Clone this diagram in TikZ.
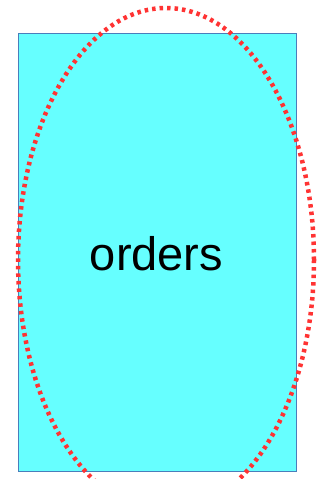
\documentclass[tikz,border=0pt]{standalone}
\usepackage{fontspec}
\setmainfont{Liberation Sans}
\definecolor{boxfill}{HTML}{66FFFF}
\definecolor{boxline}{HTML}{4A7EBB}
\definecolor{ringred}{HTML}{FF3333}
\begin{document}
\begin{tikzpicture}[x=1pt,y=1pt,
  boxstyle/.style={draw=boxline,fill=boxfill,line width=0.9pt},
  ringstyle/.style={draw=ringred,line width=4.5pt,dash pattern=on 3.5pt off 4pt}]
\useasboundingbox (0,0) rectangle (321,479);
\clip (0,0) rectangle (321,479);
\node[boxstyle,minimum width=278pt,minimum height=438pt,inner sep=0pt,anchor=south west] (box) at (18,7) {};
\draw[ringstyle] (166,219) ellipse [x radius=148, y radius=252];
\node[anchor=base,inner sep=0pt,font=\fontsize{47}{56}\selectfont] (label) at (156.5,208.5) {orders};
\end{tikzpicture}
\end{document}
